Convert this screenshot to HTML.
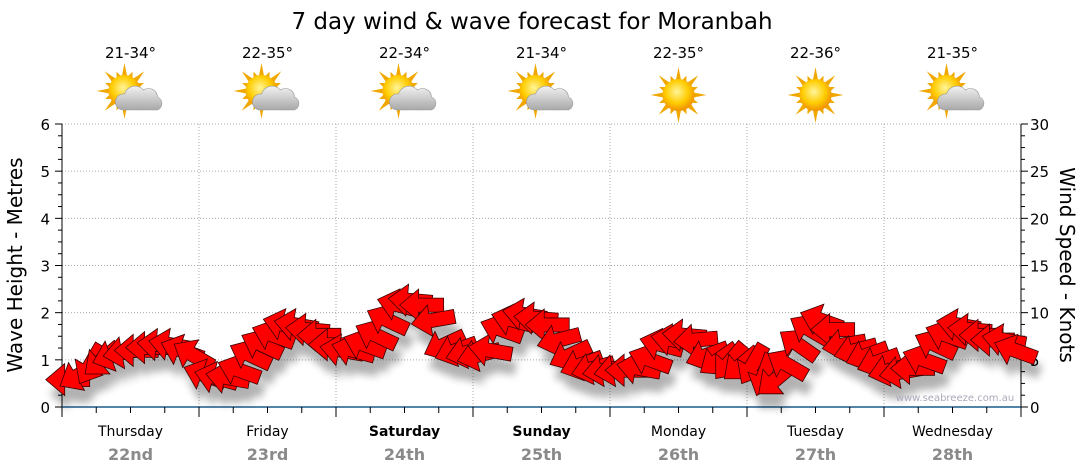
<!DOCTYPE html>
<html><head><meta charset="utf-8"><style>
body{margin:0;background:#fff;font-family:"DejaVu Sans","Liberation Sans",sans-serif}
svg{display:block}
</style></head><body>
<svg id="c" width="1080" height="475" viewBox="0 0 1080 475">
<defs>
<filter id="sh" x="-30%" y="-30%" width="160%" height="180%"><feGaussianBlur stdDeviation="4"/></filter>
<radialGradient id="sun" cx="45%" cy="40%" r="60%"><stop offset="0" stop-color="#fff59a"/><stop offset="0.6" stop-color="#ffcc00"/><stop offset="1" stop-color="#f09000"/></radialGradient>
<linearGradient id="cloud" x1="0" y1="0" x2="0" y2="1"><stop offset="0" stop-color="#f2f2f2"/><stop offset="1" stop-color="#a8a8a8"/></linearGradient>
</defs>
<text x="532" y="29" text-anchor="middle" font-size="23" fill="#000">7 day wind &amp; wave forecast for Moranbah</text>
<g id="grid"></g>
<g id="axes"></g>
<g id="icons"></g>
<g id="shadow" filter="url(#sh)" opacity="0.3"></g>
<g id="arrows"></g>
<text x="955" y="401" text-anchor="middle" font-size="10" fill="#aab">www.seabreeze.com.au</text>
<text transform="translate(22,265) rotate(-90)" text-anchor="middle" font-size="20" fill="#000">Wave Height - Metres</text>
<text transform="translate(1060,265) rotate(90)" text-anchor="middle" font-size="20" fill="#000">Wind Speed - Knots</text>
</svg>
<script>
const days=["Thursday","Friday","Saturday","Sunday","Monday","Tuesday","Wednesday"];
const dates=["22nd","23rd","24th","25th","26th","27th","28th"];
const temps=["21-34°","22-35°","22-34°","21-34°","22-35°","22-36°","21-35°"];
const cloudy=[true,true,true,true,false,false,true];
const waveTicks=[0,1,2,3,4,5,6];
const windTicks=[0,5,10,15,20,25,30];
// wind speed (knots), 2-hourly
const windSpeed=[
2.9,3.4,4.5,5.0,5.5,5.8,6.0,6.3,6.6,6.6,6.0,5.5,
3.4,3.1,3.1,3.9,5.5,6.6,7.6,8.7,8.7,8.2,7.6,6.6,
6.0,6.0,6.6,7.6,9.2,10.8,11.3,10.8,9.2,6.6,6.0,5.8,
5.5,6.0,8.2,9.2,9.8,9.4,8.7,7.1,5.5,4.5,4.1,3.9,
3.9,3.9,4.1,5.0,6.6,7.1,7.6,7.1,5.5,5.0,4.8,4.5,
4.5,3.4,2.9,4.5,6.6,8.2,9.2,8.2,6.6,6.0,5.5,4.8,
3.9,3.7,4.1,5.0,6.6,7.6,8.7,8.2,7.6,7.1,7.1,6.0];
// arrow angle (deg, 0 = pointing left)
const windDir=[
0,-30,-60,-40,-20,-10,0,0,5,10,20,30,
20,15,10,20,25,25,20,15,10,5,0,0,
10,15,20,25,25,15,5,0,-10,-25,-20,-15,
-15,10,20,15,10,5,0,-15,-25,-20,-15,-10,
-10,0,10,20,15,10,5,-5,-20,-35,-50,-40,
-60,-70,-40,30,35,30,20,0,-10,-15,-20,-20,
-15,-10,0,20,25,20,10,5,0,0,10,20];
const X0=62,X1=1021,Y0=407,Y1=124;
const dayW=(X1-X0)/7;
const xT=t=>X0+t*dayW;
const yW=m=>Y0-m*(Y0-Y1)/6;
const yK=k=>Y0-k*(Y0-Y1)/30;
const NS="http://www.w3.org/2000/svg";
function mk(tag,attrs,parent){const e=document.createElementNS(NS,tag);for(const k in attrs)e.setAttribute(k,attrs[k]);parent.appendChild(e);return e;}
const grid=document.getElementById('grid'),axes=document.getElementById('axes'),icons=document.getElementById('icons');
waveTicks.forEach((v,i)=>{
  if(v>0){const l=mk('line',{x1:X0,x2:X1,y1:yW(v),y2:yW(v),stroke:'#aaa','stroke-dasharray':'1,2'},grid);
  
  }
  const t=mk('text',{x:50,y:yW(v)+6,'text-anchor':'end','font-size':15},axes);t.textContent=v;
  
  
});
windTicks.forEach(v=>{
  const t=mk('text',{x:1030,y:yK(v)+6,'font-size':15},axes);t.textContent=v;
  
  
});
for(let m=0;m<=24;m++){const y=yW(m/4);const w=m%4==0?7:4;
  mk('line',{x1:X0,x2:X0-w,y1:y,y2:y,stroke:'#000'},axes);
  mk('line',{x1:X1,x2:X1+w,y1:y,y2:y,stroke:'#000'},axes);}
mk('line',{x1:X0,x2:X0,y1:Y1,y2:Y0,stroke:'#000'},axes);
mk('line',{x1:X1,x2:X1,y1:Y1,y2:Y0,stroke:'#000'},axes);
mk('line',{x1:X0,x2:X1,y1:Y0,y2:Y0,stroke:'#1a5a8a','stroke-width':1.5},axes);
for(let q=0;q<=28;q++){const x=xT(q/4);mk('line',{x1:x,x2:x,y1:Y0,y2:Y0+(q%4==0?10:6),stroke:'#000'},axes);}
days.forEach((d,i)=>{
  const cx=xT(i+0.5);
  if(i>0){const l=mk('line',{x1:xT(i),x2:xT(i),y1:Y1,y2:Y0,stroke:'#aaa','stroke-dasharray':'1,2'},grid);
  
  }
  const w=(d=="Saturday"||d=="Sunday");
  const t=mk('text',{x:cx,y:436,'text-anchor':'middle','font-size':14,'font-weight':w?'bold':'normal'},axes);t.textContent=d;
  
  
  const t2=mk('text',{x:cx,y:460,'text-anchor':'middle','font-size':16,'font-weight':'bold',fill:'#8a8a8a'},axes);t2.textContent=dates[i];
  
  
  const t3=mk('text',{x:cx,y:58,'text-anchor':'middle','font-size':15},icons);t3.textContent=temps[i];
  
  
  const g=mk('g',{transform:`translate(${cx},${95})`},icons);
  
  
  const sx=cloudy[i]?-6:0, sy=cloudy[i]?-4:0;
  for(let r=0;r<16;r++){const a=r*Math.PI/8,L=(r%2?21:28);
    const p1=[sx+Math.cos(a)*L,sy+Math.sin(a)*L],pa=[sx+Math.cos(a+0.2)*14,sy+Math.sin(a+0.2)*14],pb=[sx+Math.cos(a-0.2)*14,sy+Math.sin(a-0.2)*14];
    mk('polygon',{points:`${p1} ${pa} ${pb}`,fill:'#f0a800'},g);}
  mk('circle',{cx:sx,cy:sy,r:16,fill:'url(#sun)'},g);
  if(cloudy[i]){
    mk('path',{d:'M-8,15 a8,8 0 0 1 2,-16 a11,11 0 0 1 19,-4 a9,9 0 0 1 14,7 a7,7 0 0 1 0,13 z',fill:'url(#cloud)',stroke:'#999','stroke-width':0.6},g);
  }
});
const arrows=document.getElementById('arrows'),shadow=document.getElementById('shadow');
const shape="M-22,0 L-3,-16 L-3,-7 L22,-7 L22,7 L-3,7 L-3,16 Z";
windSpeed.forEach((k,i)=>{
  const x=xT((i+0.5)/12), y=yK(k);
  mk('path',{d:shape,transform:`translate(${x+4},${y+14}) rotate(${windDir[i]})`,fill:'#000'},shadow);
  const a=mk('path',{d:shape,transform:`translate(${x},${y}) rotate(${windDir[i]})`,fill:'#ff0000',stroke:'#3a0000','stroke-width':0.8},arrows);
  
  
});
</script>
</body></html>
